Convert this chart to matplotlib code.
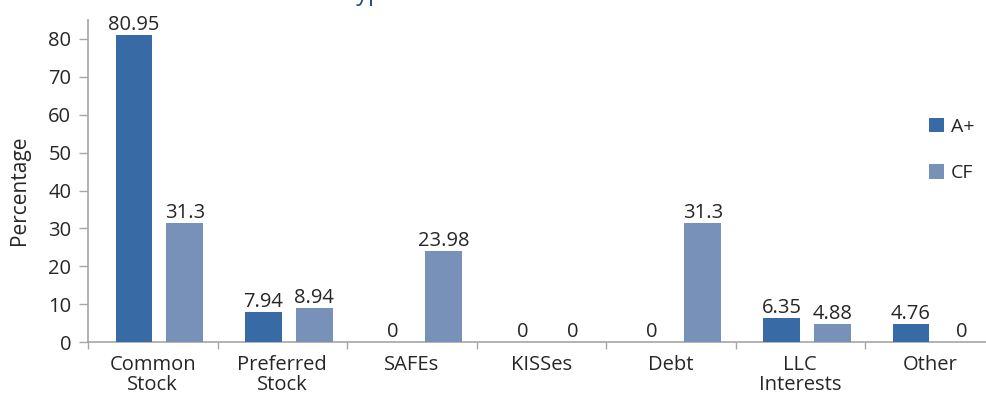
import matplotlib
matplotlib.use("Agg")
import matplotlib.pyplot as plt
import numpy as np

categories = ["Common\nStock", "Preferred\nStock", "SAFEs", "KISSes", "Debt", "LLC\nInterests", "Other"]
series_names = ["A+", "CF"]
a_plus = [80.95, 7.94, 0, 0, 0, 6.35, 4.76]
cf = [31.3, 8.94, 23.98, 0, 31.3, 4.88, 0]
value_labels_a = ["80.95", "7.94", "0", "0", "0", "6.35", "4.76"]
value_labels_cf = ["31.3", "8.94", "23.98", "0", "31.3", "4.88", "0"]
y_ticks = [0, 10, 20, 30, 40, 50, 60, 70, 80]

COL_A = "#386aa5"
COL_CF = "#7891b8"
AXIS_COL = "#a6a6a6"
TEXT_COL = "#262626"
FONT = ["Open Sans", "DejaVu Sans"]

plt.rcParams["font.family"] = FONT

W, H = 986, 394
fig = plt.figure(figsize=(W / 100, H / 100), dpi=100)

# axes box in pixels: left spine at x=88, zero line at y=342, seven categories of ~129.5 px
left_px, zero_px, cat_px, top_px = 88, 342, 129.5, 20
n = len(categories)
ax_w_px = n * cat_px
ax_h_px = zero_px - top_px
ax = fig.add_axes([left_px / W, (H - zero_px) / H, ax_w_px / W, ax_h_px / H])

x = np.arange(n) + 0.5
bw = 0.283
off_a, off_cf = -0.145, 0.247

bars_a = ax.bar(x + off_a, a_plus, width=bw, color=COL_A, label=series_names[0], zorder=3)
bars_cf = ax.bar(x + off_cf, cf, width=bw, color=COL_CF, label=series_names[1], zorder=3)

for bars, labels in ((bars_a, value_labels_a), (bars_cf, value_labels_cf)):
    for b, lab in zip(bars, labels):
        ax.annotate(lab, (b.get_x() + b.get_width() / 2, b.get_height()),
                    xytext=(0, 0), textcoords="offset points", ha="center", va="bottom",
                    fontsize=14.5, color=TEXT_COL)

ax.set_xlim(0, n)
ax.set_ylim(0, ax_h_px / 37.875 * 10)

ax.set_yticks(y_ticks)
ax.set_yticklabels([str(t) for t in y_ticks])
ax.tick_params(axis="y", direction="out", length=6.5, width=1, color=AXIS_COL,
               labelsize=14.5, labelcolor=TEXT_COL, pad=5.5)

ax.set_xticks(np.arange(n + 1))
ax.set_xticklabels([])
ax.set_xticks(x, minor=True)
ax.set_xticklabels(categories, minor=True, fontsize=14.5, color=TEXT_COL, linespacing=0.97)
ax.tick_params(axis="x", which="major", direction="out", length=5, width=1, color=AXIS_COL)
ax.tick_params(axis="x", which="minor", length=0, pad=9.5)

for s in ("top", "right"):
    ax.spines[s].set_visible(False)
for s in ("left", "bottom"):
    ax.spines[s].set_color(AXIS_COL)
    ax.spines[s].set_linewidth(1.2)
ax.spines["left"].set_bounds(0, ax.get_ylim()[1])

ax.set_ylabel("Percentage", fontsize=15, color=TEXT_COL, va="center", ha="center")
ax.yaxis.set_label_coords((20 - left_px) / ax_w_px, (zero_px - 190) / ax_h_px)

leg = fig.legend(handles=[bars_a, bars_cf], labels=series_names, loc="upper left",
                 bbox_to_anchor=(911 / W, 1 - 100 / H), frameon=False, fontsize=14,
                 handlelength=0.8, handleheight=0.8, handletextpad=0.35, labelspacing=1.45,
                 labelcolor=TEXT_COL)

fig.text(343 / W, 1.0, "Types of Securities Offered", ha="left", va="baseline",
         fontsize=17, color="#1f4e8c")

fig.savefig("out.png", dpi=100)
